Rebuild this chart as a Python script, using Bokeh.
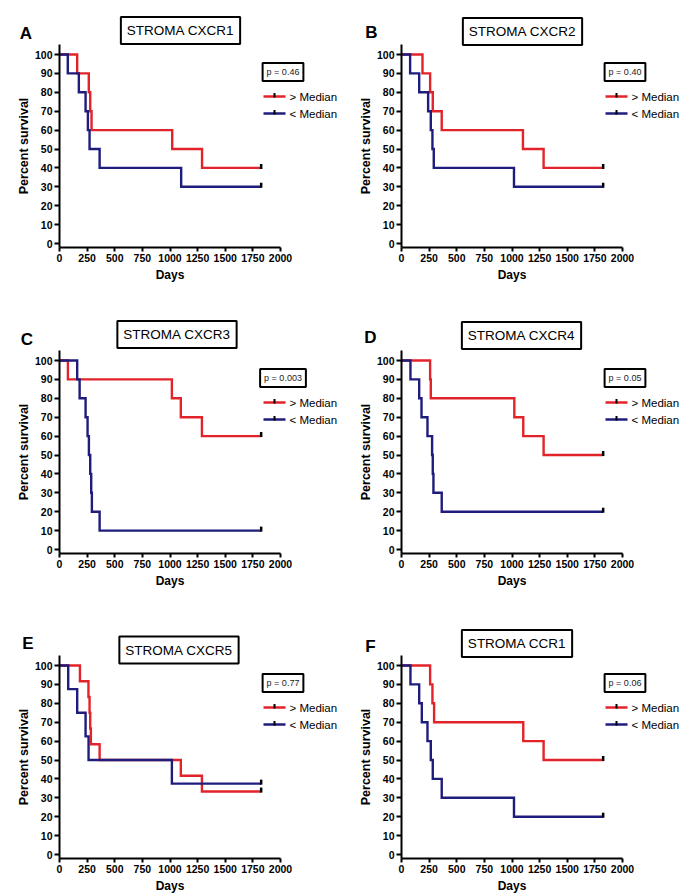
from bokeh.plotting import figure
from bokeh.layouts import column, row
from bokeh.models import Label, Arrow, FixedTicker, Range1d
from bokeh.embed import file_html
from bokeh.resources import INLINE

# ---------------- data ----------------
letters = ["A", "B", "C", "D", "E", "F"]
titles = ["STROMA CXCR1", "STROMA CXCR2", "STROMA CXCR3",
          "STROMA CXCR4", "STROMA CXCR5", "STROMA CCR1"]
p_values = ["p = 0.46", "p = 0.40", "p = 0.003", "p = 0.05", "p = 0.77", "p = 0.06"]
series_labels = ["> Median", "< Median"]

# > Median group (event days and survival after each event)
hi_times = [
    [160, 265, 278, 290, 1020, 1290],
    [190, 259, 283, 364, 1099, 1286],
    [76, 1017, 1098, 1289],
    [259, 265, 1021, 1102, 1286],
    [185, 262, 272, 278, 284, 363, 1098, 1289],
    [259, 280, 295, 1102, 1286],
]
hi_surv = [
    [90, 80, 70, 60, 50, 40],
    [90, 80, 70, 60, 50, 40],
    [90, 80, 70, 60],
    [90, 80, 70, 60, 50],
    [91.7, 83.3, 75, 66.7, 58.3, 50, 41.7, 33.3],
    [90, 80, 70, 60, 50],
]
# < Median group
lo_times = [
    [75, 175, 236, 257, 272, 363, 1101],
    [78, 160, 241, 265, 280, 292, 1018],
    [160, 182, 236, 254, 266, 278, 287, 293, 363],
    [81, 160, 181, 235, 277, 283, 289, 364],
    [79, 160, 236, 263, 1017],
    [81, 160, 184, 235, 265, 283, 364, 1018],
]
lo_surv = [
    [90, 80, 70, 60, 50, 40, 30],
    [90, 80, 70, 60, 50, 40, 30],
    [90, 80, 70, 60, 50, 40, 30, 20, 10],
    [90, 80, 70, 60, 50, 40, 30, 20],
    [87.5, 75, 62.5, 50, 37.5],
    [90, 80, 70, 60, 50, 40, 30, 20],
]
censor_day = 1825
x_ticks = [0, 250, 500, 750, 1000, 1250, 1500, 1750, 2000]
y_ticks = [0, 10, 20, 30, 40, 50, 60, 70, 80, 90, 100]

# ---------------- style / layout ----------------
FONT = "Liberation Sans"
RED = "#e3232a"
BLUE = "#1e1c7c"

COL_W = [342, 343]
ROW_H = [306, 305, 285]
# local pixel geometry of each panel's axes
AX_LEFT, AX_RIGHT = 59, 280          # day 0 and day 2000
Y100, Y0PX = 54, 243                 # 100 % and 0 %
AX_TOP, AX_BOT = 44, 247             # ends of the y axis line
SX = 2000 / (AX_RIGHT - AX_LEFT)     # days per pixel
SY = 100 / (Y0PX - Y100)             # percent per pixel


def X(px):
    return (px - AX_LEFT) * SX


def Y(py):
    return 100 - (py - Y100) * SY


title_pos = [(180, 30), (180, 31), (176.5, 28), (179, 29), (178.5, 38.5), (174.5, 32)]
letter_pos = [(25.5, 32.5), (29, 31.5), (26.5, 33), (28, 30.5), (27.5, 32), (28, 35)]


def make_panel(i):
    col = i % 2
    r = i // 2
    w = COL_W[col]
    h = ROW_H[r]
    p = figure(width=w, height=h,
               x_range=Range1d(X(0), X(w)), y_range=Range1d(Y(h), Y(0)),
               output_backend="svg", toolbar_location=None, min_border=0)
    p.background_fill_color = "white"
    p.border_fill_color = "white"
    p.outline_line_color = None
    p.grid.visible = False

    for ax in (p.xaxis[0], p.yaxis[0]):
        ax.axis_line_width = 2
        ax.axis_line_color = "black"
        ax.major_tick_line_width = 2
        ax.major_tick_line_color = "black"
        ax.major_tick_in = 0
        ax.minor_tick_line_color = None
        ax.major_label_text_font = FONT
        ax.major_label_text_font_style = "bold"
        ax.major_label_text_font_size = "10.5px"
        ax.major_label_text_color = "black"
        ax.major_label_standoff = 2
        ax.axis_label_text_font = FONT
        ax.axis_label_text_font_style = "bold"
        ax.axis_label_text_color = "black"
    p.xaxis.fixed_location = Y(AX_BOT)
    p.yaxis.fixed_location = 0
    p.xaxis.bounds = (0, 2000)
    p.yaxis.bounds = (Y(AX_BOT), Y(AX_TOP))
    p.xaxis.major_tick_out = 4
    p.yaxis.major_tick_out = 5
    p.xaxis.ticker = FixedTicker(ticks=x_ticks)
    p.yaxis.ticker = FixedTicker(ticks=y_ticks)
    p.xaxis.axis_label = "Days"
    p.xaxis.axis_label_text_font_size = "12px"
    p.xaxis.axis_label_standoff = 3
    p.yaxis.axis_label = "Percent survival"
    p.yaxis.axis_label_text_font_size = "12.5px"
    p.yaxis.axis_label_standoff = 1

    # curves
    for times, surv, color in ((hi_times[i], hi_surv[i], RED),
                               (lo_times[i], lo_surv[i], BLUE)):
        xs = [0] + times + [censor_day]
        ys = [100] + surv + [surv[-1]]
        p.step(xs, ys, mode="after", line_color=color, line_width=2.4,
               line_join="miter")
    ends = [hi_surv[i][-1], lo_surv[i][-1]]
    p.segment(x0=[censor_day] * 2, x1=[censor_day] * 2,
              y0=[v - SY * 1 for v in ends], y1=[v + SY * 4 for v in ends],
              line_color="black", line_width=2.5)

    # panel letter
    lx, ly = letter_pos[i]
    p.add_layout(Label(x=X(lx), y=Y(ly), text=letters[i],
                       text_align="center", text_baseline="middle",
                       text_font=FONT, text_font_style="bold",
                       text_font_size="17px", text_color="black"))
    # title box
    tx, ty = title_pos[i]
    p.add_layout(Label(x=X(tx), y=Y(ty), text=titles[i],
                       text_align="center", text_baseline="middle",
                       text_font=FONT, text_font_size="13.5px", text_color="black",
                       border_line_color="black", border_line_width=2,
                       background_fill_color="white", padding=6))
    # p-value box
    p.add_layout(Label(x=X(282.5), y=Y(71.5), text=p_values[i],
                       text_align="center", text_baseline="middle",
                       text_font=FONT, text_font_size="9px", text_color="#222222",
                       border_line_color="black", border_line_width=2,
                       background_fill_color="white", padding=4))
    # legend
    for lab, color, py in ((series_labels[0], RED, 96), (series_labels[1], BLUE, 113)):
        yy = Y(py)
        p.add_layout(Arrow(end=None, x_start=X(263), x_end=X(285),
                           y_start=yy, y_end=yy, line_color=color, line_width=2.4))
        p.add_layout(Arrow(end=None, x_start=X(274), x_end=X(274),
                           y_start=Y(py + 1), y_end=Y(py - 3.5),
                           line_color="black", line_width=2))
        p.add_layout(Label(x=X(289), y=yy, text=lab,
                           text_align="left", text_baseline="middle",
                           text_font=FONT, text_font_size="11.5px",
                           text_color="black"))
    return p


panels = [make_panel(i) for i in range(6)]
layout = column(row(panels[0], panels[1]),
                row(panels[2], panels[3]),
                row(panels[4], panels[5]))

open("out.html", "w").write(file_html(layout, INLINE))
